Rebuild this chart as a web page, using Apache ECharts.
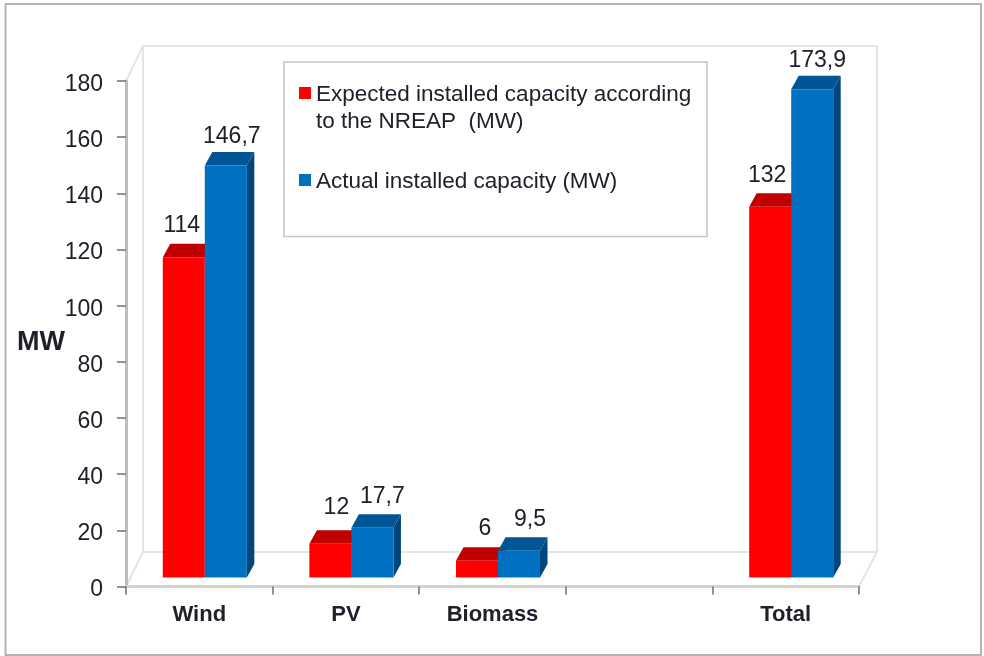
<!DOCTYPE html>
<html>
<head>
<meta charset="utf-8">
<style>html,body{margin:0;padding:0;background:#fff}#c{width:984px;height:656px}</style>
<script src="https://cdn.jsdelivr.net/npm/echarts@6/dist/echarts.min.js"></script>
</head>
<body>
<div id="c"></div>
<script>
// Installed capacity by renewable source, drawn as pseudo-3D columns.
const categories = ['Wind', 'PV', 'Biomass', '', 'Total'];
const expectedValues = [114, 12, 6, null, 132];
const actualValues = [146.7, 17.7, 9.5, null, 173.9];
const yTicks = [0, 180, 20];
const seriesNames = [
  'Expected installed capacity according\nto the NREAP  (MW)',
  'Actual installed capacity (MW)'
];

const FONT = '"Liberation Sans", Arial, sans-serif';
const INK = '#20202c';
const DEPTH_X = 7.5, DEPTH_Y = 13.5;   // oblique projection of the column depth
const FLOOR_LIFT = 9;                  // columns stand on the raised floor
const BAR_SHIFT = 5.5;                 // columns sit slightly right of the band centre
const BAND_SHARE = 0.2866;             // one column's share of the category band

// Hand placement of the value labels relative to each column, per category.
const expectedLabelShift = [[-2, 0], [6, -5], [8, 0], [0, 0], [-3, 0]];
const actualLabelShift = [[6, 3], [10, 0], [11, 0], [0, 0], [5, 3]];

function columnRenderer(side, colors, labelShift) {
  return function (params, api) {
    const value = api.value(1);
    const index = api.value(0);
    const p = api.coord([index, value]);
    const base = api.coord([index, 0]);
    const w = api.size([1, 0])[0] * BAND_SHARE;
    const x0 = p[0] + BAR_SHIFT + (side < 0 ? -w : 0);
    const x1 = x0 + w;
    const yt = p[1] - FLOOR_LIFT;
    const yb = base[1] - FLOOR_LIFT;
    const shift = labelShift[index];
    const poly = (points, fill) => ({
      type: 'polygon', shape: { points }, style: { fill }
    });
    return {
      type: 'group',
      children: [
        poly([[x1, yt], [x1 + DEPTH_X, yt - DEPTH_Y], [x1 + DEPTH_X, yb - DEPTH_Y], [x1, yb]], colors.side),
        poly([[x0, yt], [x0 + DEPTH_X, yt - DEPTH_Y], [x1 + DEPTH_X, yt - DEPTH_Y], [x1, yt]], colors.top),
        poly([[x0, yt], [x1, yt], [x1, yb], [x0, yb]], colors.front),
        {
          type: 'text',
          style: {
            text: String(value).replace('.', ','),
            x: (x0 + x1) / 2 + shift[0],
            y: yt - DEPTH_Y - 18 + shift[1],
            align: 'center',
            verticalAlign: 'middle',
            font: '23px ' + FONT,
            fill: INK
          }
        }
      ]
    };
  };
}

function columnSeries(name, values, side, colors, labelShift) {
  return {
    name,
    type: 'custom',
    coordinateSystem: 'cartesian2d',
    itemStyle: { color: colors.front },
    encode: { x: 0, y: 1 },
    data: values.map((v, i) => [i, v]).filter(d => d[1] !== null),
    renderItem: columnRenderer(side, colors, labelShift)
  };
}

const RED = { front: '#ff0000', top: '#c00000', side: '#900000' };
const BLUE = { front: '#0070c0', top: '#005596', side: '#00467c' };

const wallLine = { stroke: '#e4e4e4', lineWidth: 2 };
const wallSegment = (x1, y1, x2, y2) => ({
  type: 'line', z: 0, shape: { x1, y1, x2, y2 }, style: wallLine, silent: true
});

const chart = echarts.init(document.getElementById('c'), null, { renderer: 'canvas' });
chart.setOption({
  animation: false,
  backgroundColor: '#fff',
  grid: { left: 126, right: 125, top: 81, bottom: 69.5, containLabel: false, outerBoundsMode: 'none' },
  xAxis: {
    type: 'category',
    data: categories,
    boundaryGap: true,
    axisLine: { lineStyle: { color: '#d2d2d2', width: 3 } },
    axisTick: { show: true, alignWithLabel: false, length: 8, lineStyle: { color: '#707070', width: 1.5 } },
    axisLabel: { interval: 0, margin: 17, color: INK, fontFamily: FONT, fontWeight: 'bold', fontSize: 22 }
  },
  yAxis: {
    type: 'value',
    min: yTicks[0],
    max: yTicks[1],
    interval: yTicks[2],
    name: 'MW',
    nameLocation: 'middle',
    nameRotate: 0,
    nameGap: 61,
    nameMoveOverlap: false,
    nameTextStyle: { color: INK, fontFamily: FONT, fontWeight: 'bold', fontSize: 27, verticalAlign: 'top', padding: [-5, 0, 0, 0] },
    axisLine: { show: true, lineStyle: { color: '#bdbdbd', width: 3 } },
    axisTick: { show: true, length: 9, lineStyle: { color: '#707070', width: 1.5 } },
    axisLabel: { margin: 23, color: INK, fontFamily: FONT, fontSize: 23, verticalAlign: 'top', padding: [-8, 0, 0, 0] },
    splitLine: { show: false }
  },
  legend: {
    orient: 'vertical',
    left: 299,
    top: 81,
    padding: 0,
    itemGap: 19.5,
    itemWidth: 12,
    itemHeight: 54,
    selectedMode: false,
    textStyle: { color: INK, fontFamily: FONT, fontSize: 22.5, lineHeight: 27 },
    data: [
      { name: seriesNames[0], icon: 'path://M0 0L0 0M0 6H12V18H0ZM12 54L12 54' },
      { name: seriesNames[1], icon: 'path://M0 0L0 0M0 19.5H12V31.5H0ZM12 54L12 54' }
    ]
  },
  graphic: {
    elements: [
      // outer frame
      { type: 'rect', z: 0, silent: true, shape: { x: 5.5, y: 4, width: 975.5, height: 651 },
        style: { fill: '#fff', stroke: '#b4b4b4', lineWidth: 2 } },
      // back wall and floor of the plot box
      wallSegment(143, 46, 877, 46),
      wallSegment(143, 46, 143, 552),
      wallSegment(877, 46, 877, 552),
      wallSegment(143, 552, 877, 552),
      wallSegment(126, 81, 143, 46),
      wallSegment(126, 586.5, 143, 552),
      wallSegment(859, 586.5, 877, 552),
      // legend box
      { type: 'rect', z: 1, silent: true, shape: { x: 284, y: 62, width: 423, height: 174.5 },
        style: { fill: '#fff', stroke: '#c4c4c4', lineWidth: 1.5 } }
    ]
  },
  series: [
    columnSeries(seriesNames[0], expectedValues, -1, RED, expectedLabelShift),
    columnSeries(seriesNames[1], actualValues, 1, BLUE, actualLabelShift)
  ]
});
</script>
</body>
</html>
